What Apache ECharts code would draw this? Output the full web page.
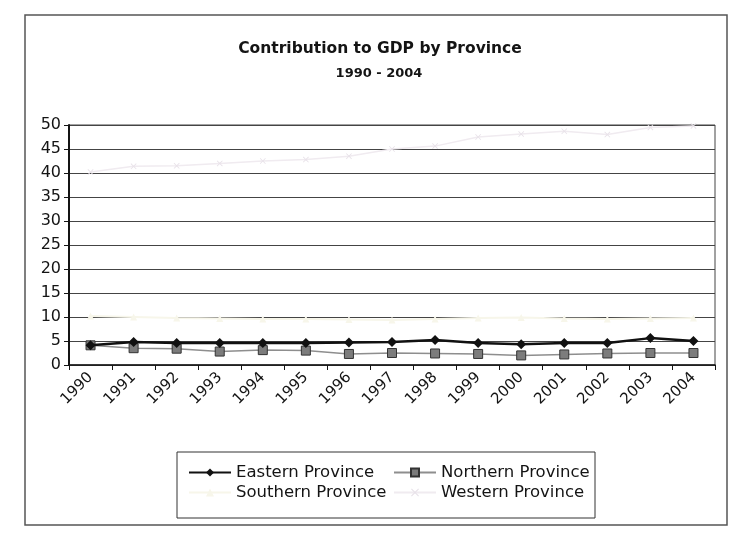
<!DOCTYPE html>
<html>
<head>
<meta charset="utf-8">
<script src="https://cdn.jsdelivr.net/npm/echarts@6/dist/echarts.min.js"></script>
<style>
  html, body { margin: 0; padding: 0; background: #ffffff; }
  #chart { width: 730px; height: 534px; }
</style>
</head>
<body>
<div id="chart"></div>
<script>
// Share of national GDP (%) by province, 1990 - 2004
const years = ['1990', '1991', '1992', '1993', '1994', '1995', '1996', '1997',
               '1998', '1999', '2000', '2001', '2002', '2003', '2004'];
const eastern  = [4.1, 4.8, 4.6, 4.6, 4.6, 4.6, 4.7, 4.8, 5.2, 4.6, 4.3, 4.6, 4.6, 5.6, 5.0];
const northern = [4.1, 3.5, 3.4, 2.8, 3.1, 3.0, 2.3, 2.5, 2.4, 2.3, 2.0, 2.2, 2.4, 2.5, 2.5];
const southern = [10.2, 10.0, 9.8, 9.7, 9.6, 9.6, 9.5, 9.4, 9.6, 9.8, 9.9, 9.7, 9.6, 9.7, 9.8];
const western  = [40.2, 41.4, 41.5, 42.0, 42.5, 42.8, 43.5, 45.0, 45.6, 47.5, 48.1, 48.7, 48.0, 49.5, 49.8];
const yTicks = { min: 0, max: 50, step: 5 };

const FONT = 'DejaVu Sans';
const INK = '#141414';
const crossMark = 'path://M0,1 L1,0 L5,4 L9,0 L10,1 L6,5 L10,9 L9,10 L5,6 L1,10 L0,9 L4,5 Z';

const chart = echarts.init(document.getElementById('chart'), null, { renderer: 'canvas' });

chart.setOption({
  backgroundColor: '#ffffff',
  animation: false,
  title: [
    {
      text: 'Contribution to GDP by Province',
      left: 375, top: 36, textAlign: 'center',
      textStyle: { fontFamily: FONT, fontSize: 15.5, fontWeight: 'bold', color: INK }
    },
    {
      text: '1990 - 2004',
      left: 374, top: 62, textAlign: 'center',
      textStyle: { fontFamily: FONT, fontSize: 13, fontWeight: 'bold', color: INK }
    }
  ],
  legend: [
    {
      data: ['Eastern Province', 'Southern Province'],
      orient: 'vertical', left: 183, top: 459,
      itemWidth: 42, itemHeight: 10, itemGap: 3,
      textStyle: { fontFamily: FONT, fontSize: 16.5, color: INK }
    },
    {
      data: ['Northern Province', 'Western Province'],
      orient: 'vertical', left: 388, top: 459,
      itemWidth: 42, itemHeight: 10, itemGap: 3,
      textStyle: { fontFamily: FONT, fontSize: 16.5, color: INK }
    }
  ],
  graphic: [
    {
      type: 'rect', silent: true, z: -1,
      shape: { x: 25, y: 15, width: 702, height: 510 },
      style: { fill: 'none', stroke: '#555', lineWidth: 1.5 }
    },
    {
      type: 'rect', silent: true,
      shape: { x: 177, y: 452, width: 418, height: 66 },
      style: { fill: 'none', stroke: '#333', lineWidth: 1 }
    }
  ],
  grid: {
    left: 69, right: 15, top: 125, height: 240,
    show: true, borderColor: '#444', borderWidth: 1,
    backgroundColor: 'transparent'
  },
  xAxis: {
    type: 'category',
    data: years,
    boundaryGap: true,
    axisLine: { lineStyle: { color: INK, width: 1.5 } },
    axisTick: { show: true, length: 5, lineStyle: { color: INK } },
    axisLabel: {
      rotate: 45, margin: 10, interval: 0,
      fontFamily: FONT, fontSize: 15, color: INK
    },
    splitLine: { show: false }
  },
  yAxis: {
    type: 'value',
    min: yTicks.min, max: yTicks.max, interval: yTicks.step,
    axisLine: { show: true, lineStyle: { color: INK, width: 2 } },
    axisTick: { show: true, length: 5, lineStyle: { color: INK } },
    axisLabel: { margin: 8, fontFamily: FONT, fontSize: 16, color: INK },
    splitLine: { show: true, lineStyle: { color: '#444', width: 1.2 } }
  },
  series: [
    {
      name: 'Eastern Province', type: 'line', data: eastern, z: 5,
      symbol: 'diamond', symbolSize: 10, showAllSymbol: true,
      lineStyle: { color: '#111', width: 2.5 },
      itemStyle: { color: '#111' }
    },
    {
      name: 'Northern Province', type: 'line', data: northern, z: 4,
      symbol: 'rect', symbolSize: 9, showAllSymbol: true,
      lineStyle: { color: '#8e8e8e', width: 1.5 },
      itemStyle: { color: '#7c7c7c', borderColor: '#333', borderWidth: 1 }
    },
    {
      name: 'Southern Province', type: 'line', data: southern, z: 3,
      symbol: 'triangle', symbolSize: 7, showAllSymbol: true,
      lineStyle: { color: '#f7f6ea', width: 2 },
      itemStyle: { color: '#f7f6ea' }
    },
    {
      name: 'Western Province', type: 'line', data: western, z: 3,
      symbol: crossMark, symbolSize: 6, showAllSymbol: true,
      lineStyle: { color: '#f0ebf0', width: 1.5 },
      itemStyle: { color: '#e8e2e9' }
    }
  ]
});
</script>
</body>
</html>
